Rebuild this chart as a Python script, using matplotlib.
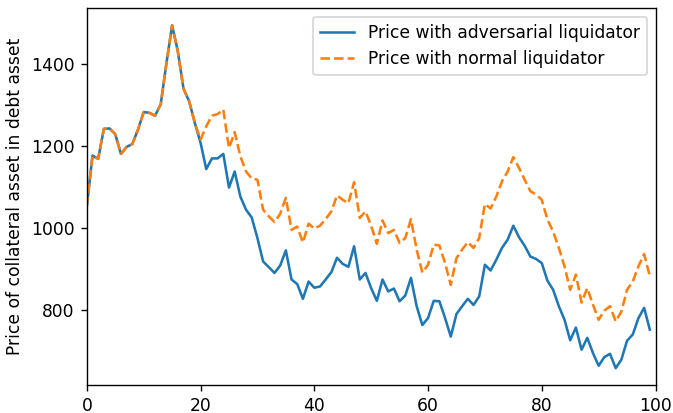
import numpy as np
import matplotlib
matplotlib.use("Agg")
import matplotlib.pyplot as plt

# price path under each liquidator
adversarial = [1053, 1177, 1169, 1242, 1243, 1229, 1181, 1198, 1205, 1240,
               1283, 1281, 1274, 1302, 1402, 1494, 1431, 1340, 1309, 1256,
               1208, 1144, 1170, 1170, 1181, 1099, 1138, 1077, 1045, 1026,
               976, 919, 905, 891, 909, 946, 875, 864, 828, 870,
               855, 858, 875, 893, 928, 913, 906, 956, 875, 891,
               854, 823, 875, 846, 853, 822, 836, 879, 810, 764,
               781, 823, 822, 781, 736, 791, 810, 828, 813, 834,
               911, 897, 923, 952, 972, 1006, 978, 957, 931, 925,
               915, 872, 850, 810, 777, 727, 758, 704, 733, 696,
               665, 686, 694, 659, 680, 726, 741, 781, 806, 753]
normal = [1053, 1177, 1169, 1242, 1243, 1229, 1181, 1198, 1205, 1240,
          1283, 1281, 1274, 1302, 1402, 1494, 1431, 1340, 1309, 1256,
          1216, 1248, 1274, 1278, 1289, 1195, 1234, 1175, 1138, 1121,
          1118, 1045, 1029, 1015, 1035, 1074, 996, 1004, 965, 1011,
          999, 1006, 1022, 1041, 1080, 1069, 1061, 1112, 1025, 1041,
          1006, 962, 1019, 988, 996, 964, 976, 1022, 948, 892,
          911, 960, 958, 915, 862, 927, 948, 966, 952, 976,
          1059, 1048, 1077, 1114, 1138, 1173, 1147, 1118, 1090, 1082,
          1069, 1021, 992, 952, 907, 850, 887, 819, 854, 814,
          777, 799, 810, 773, 797, 850, 870, 907, 937, 883]

steps = np.arange(len(adversarial))

dpi = 123
fig = plt.figure(figsize=(673 / dpi, 413 / dpi), dpi=dpi)
ax = fig.add_axes([0.129, 0.067, 0.845, 0.913])

ax.plot(steps, adversarial, label="Price with adversarial liquidator")
ax.plot(steps, normal, "--", label="Price with normal liquidator")
ax.set_xlim(0, 100)
ax.set_ylabel("Price of collateral asset in debt asset")
ax.legend(loc="upper right")

plt.savefig("out.png", dpi=dpi)
